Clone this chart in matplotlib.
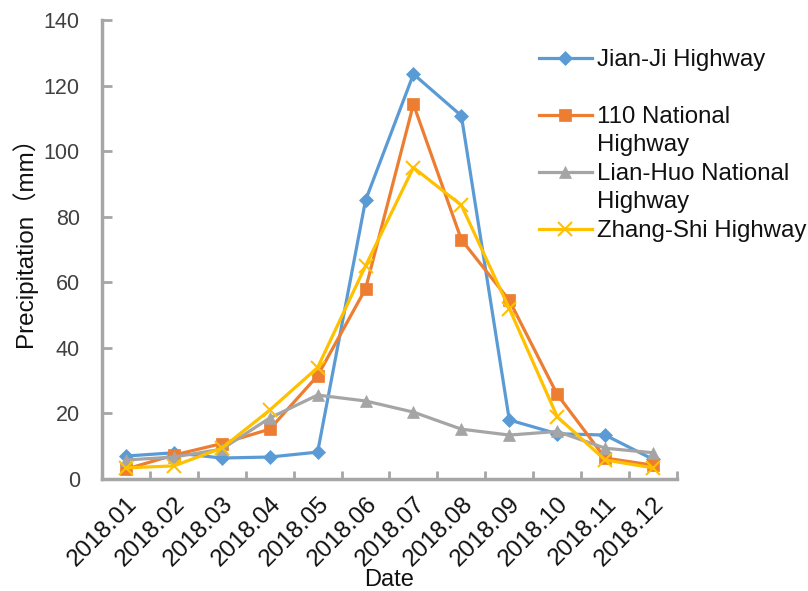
import matplotlib
matplotlib.use("Agg")
import matplotlib.pyplot as plt
from matplotlib.lines import Line2D

plt.rcParams['font.family'] = ['Liberation Sans', 'Noto Sans CJK SC', 'DejaVu Sans']

dates = ["2018.01", "2018.02", "2018.03", "2018.04", "2018.05", "2018.06",
         "2018.07", "2018.08", "2018.09", "2018.10", "2018.11", "2018.12"]
jian_ji = [7.0, 8.0, 6.4, 6.7, 8.2, 85.0, 123.5, 110.8, 18.0, 13.8, 13.4, 6.0]
national_110 = [3.0, 7.3, 10.8, 15.2, 31.5, 58.0, 114.3, 73.0, 54.5, 25.8, 6.4, 4.2]
lian_huo = [5.8, 6.7, 9.1, 18.6, 25.6, 23.8, 20.4, 15.2, 13.4, 14.5, 9.4, 8.0]
zhang_shi = [3.4, 4.0, 9.4, 21.0, 34.0, 65.0, 95.0, 83.5, 52.0, 19.0, 5.8, 3.4]

series_labels = ["Jian-Ji Highway", "110 National\nHighway",
                 "Lian-Huo National\nHighway", "Zhang-Shi Highway"]
colors = ["#5B9BD5", "#ED7D31", "#A5A5A5", "#FFC000"]
markers = ["D", "s", "^", "x"]
msizes = [7.5, 8, 8.5, 10]
yticks = [0, 20, 40, 60, 80, 100, 120, 140]

fig = plt.figure(figsize=(8.08, 5.91), dpi=100)
ax = fig.add_axes([102/808, 1-479/591, (677-102)/808, (479-20)/591])

x = list(range(len(dates)))
data = [jian_ji, national_110, lian_huo, zhang_shi]
handles = []
for vals, c, m, ms in zip(data, colors, markers, msizes):
    h, = ax.plot(x, vals, color=c, lw=2.3, marker=m, markersize=ms,
                 markeredgewidth=1.5 if m == "x" else 0.5, markeredgecolor=c,
                 markerfacecolor=c, solid_joinstyle='round')
    handles.append(h)

ax.set_xlim(-0.5, len(dates) - 0.5)
ax.set_ylim(0, 140)
ax.set_yticks(yticks)
ax.set_xticks(x)
ax.set_xticklabels(dates, rotation=45, ha='right', rotation_mode='anchor')
ax.set_xticks([i - 0.5 for i in range(len(dates) + 1)], minor=True)
ax.tick_params(axis='x', which='major', length=0, pad=10, labelsize=17.5, labelcolor='#111111')
ax.tick_params(axis='x', which='minor', length=6, width=2, color='#A6A6A6', direction='in')
ax.tick_params(axis='y', length=7, width=2, color='#A6A6A6', direction='in',
               labelsize=15.5, labelcolor='#404040', pad=16)

for s in ['top', 'right']:
    ax.spines[s].set_visible(False)
for s in ['left', 'bottom']:
    ax.spines[s].set_color('#A6A6A6')
    ax.spines[s].set_linewidth(2.5)

ax.set_ylabel("Precipitation（mm）", fontsize=17.5, color='#111111')
ax.yaxis.set_label_coords(-0.113, 0.53)
ax.set_xlabel("Date", fontsize=17, color='#111111', labelpad=-1)

# legend: first line of each label next to its handle
blank = Line2D([], [], linestyle='none', marker='none')
leg_handles = []
leg_labels = []
for i, (h, lab) in enumerate(zip(handles, series_labels)):
    lines = lab.split("\n")
    leg_handles.append(h)
    leg_labels.append(lines[0])
    if i == 0:
        leg_handles.append(blank)
        leg_labels.append(" ")
    for extra in lines[1:]:
        leg_handles.append(blank)
        leg_labels.append(extra)

leg = fig.legend(leg_handles, leg_labels, loc='upper left',
                 bbox_to_anchor=(539/808, 1-49/591), frameon=False,
                 fontsize=17.3, handlelength=2.2, handletextpad=0.22,
                 labelspacing=0.27, borderpad=0, borderaxespad=0)
for t in leg.get_texts():
    t.set_color('#111111')

fig.savefig("out.png", dpi=100)
